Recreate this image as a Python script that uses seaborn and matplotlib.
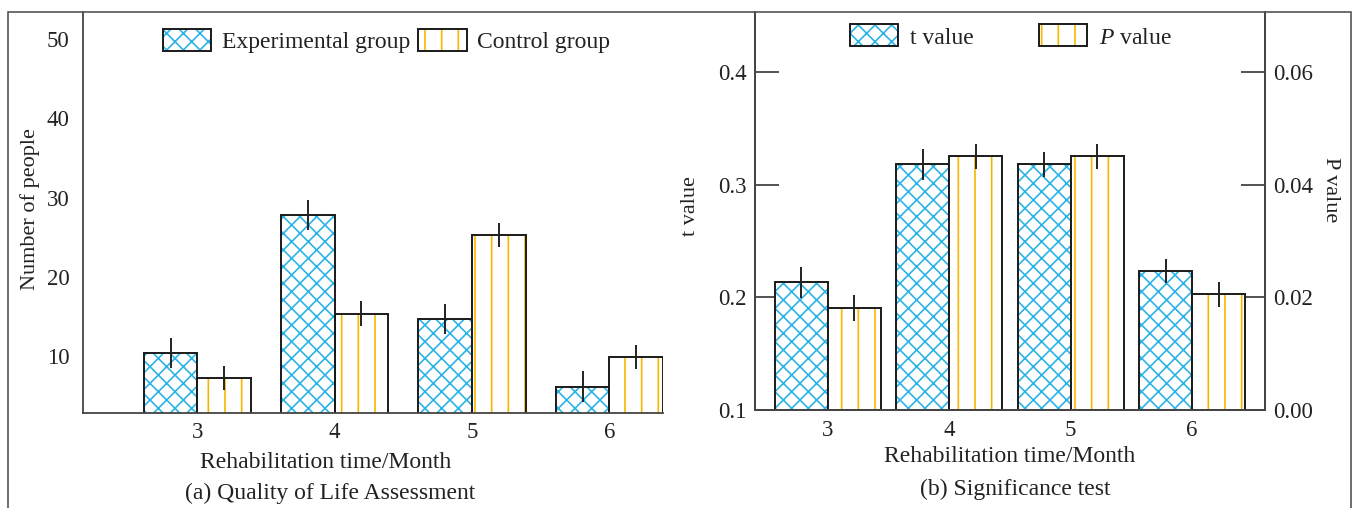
import matplotlib
matplotlib.use("Agg")
import matplotlib.pyplot as plt
import seaborn as sns
import pandas as pd
from matplotlib.patches import Patch, Rectangle
from matplotlib.ticker import StrMethodFormatter

# ---------------- data ----------------
months = [3, 4, 5, 6]
group_labels = ["Experimental group", "Control group"]
exp_people = [10.4, 27.8, 14.7, 6.2]
ctrl_people = [7.3, 15.4, 25.3, 9.9]
exp_err = [1.9, 1.9, 1.9, 1.9]
ctrl_err = [1.55, 1.55, 1.55, 1.55]

stat_labels = ["t value", "P value"]
t_values = [0.213, 0.318, 0.318, 0.223]
t_err = [0.0135, 0.014, 0.0113, 0.0108]
p_values = [0.018, 0.045, 0.045, 0.0205]
p_err = [0.0023, 0.0023, 0.0023, 0.0022]

left_yticks = [10, 20, 30, 40, 50]
t_ticks = [0.1, 0.2, 0.3, 0.4]
p_ticks = [0.00, 0.02, 0.04, 0.06]

# ---------------- style ----------------
sns.set_theme(style="white")
plt.rcParams["font.family"] = ["Liberation Serif", "DejaVu Serif"]
plt.rcParams["mathtext.fontset"] = "custom"
plt.rcParams["mathtext.rm"] = "Liberation Serif"
plt.rcParams["mathtext.it"] = "Liberation Serif:italic"
plt.rcParams["hatch.linewidth"] = 1.2
TXT = "#222222"
CYAN = "#2db4e6"
GOLD = "#f6b600"
EDGE = "#1a1a1a"
SPINE = "#444444"
plt.rcParams["text.color"] = TXT
plt.rcParams["axes.labelcolor"] = TXT
plt.rcParams["xtick.color"] = TXT
plt.rcParams["ytick.color"] = TXT

W, H = 1354, 508
fig = plt.figure(figsize=(W / 100, H / 100), dpi=100)


def fx(px):
    return px / W


def fy(py):
    return 1 - py / H


axA = fig.add_axes([fx(83.3), fy(412.5), fx(663 - 83.3), (412.5 - 12) / H])
axB = fig.add_axes([fx(755), fy(409.5), fx(1265 - 755), (409.5 - 12) / H])


def style_container(ax, cont, hc, hatch, errs):
    xs, ys = [], []
    for p in cont.patches:
        p.set_facecolor("white")
        p.set_edgecolor(hc)
        p.set_hatch(hatch)
        p.set_linewidth(0)
        ax.add_patch(Rectangle(p.get_xy(), p.get_width(), p.get_height(),
                               fill=False, ec=EDGE, lw=1.4,
                               zorder=p.get_zorder() + 0.1))
        xs.append(p.get_x() + p.get_width() / 2)
        ys.append(p.get_y() + p.get_height())
    ax.errorbar(xs, ys, yerr=errs, fmt="none", ecolor="#222222",
                elinewidth=1.4, capsize=0, zorder=5)


def filled(ax):
    return [c for c in ax.containers if len(c.patches) > 0]


# ---------------- panel (a) ----------------
df_a = pd.DataFrame({
    "month": months * 2,
    "group": [group_labels[0]] * len(months) + [group_labels[1]] * len(months),
    "value": exp_people + ctrl_people,
})
sns.barplot(data=df_a, x="month", y="value", hue="group", hue_order=group_labels,
            width=0.78, errorbar=None, ax=axA, legend=False, dodge=True,
            palette=["white", "white"])
ca = filled(axA)
style_container(axA, ca[0], CYAN, "xx", exp_err)
style_container(axA, ca[1], GOLD, "|", ctrl_err)
axA.set_xlim(-0.83, 3.39)
axA.set_ylim(2.93, 53.4)
axA.set_yticks(left_yticks)
axA.set_xlabel("")
axA.set_ylabel("")
for s in ["top", "right"]:
    axA.spines[s].set_visible(False)
for s in ["left", "bottom"]:
    axA.spines[s].set_color(SPINE)
    axA.spines[s].set_linewidth(1.3)
axA.tick_params(axis="y", direction="in", length=17, width=1.3, color=SPINE,
                pad=10, labelsize=16.5)
axA.tick_params(axis="x", length=0, pad=7, labelsize=16.5)

styles = [(CYAN, "xx"), (GOLD, "|")]
hA = [(Patch(facecolor="white", edgecolor=c, hatch=h, linewidth=0),
       Patch(facecolor="none", edgecolor=EDGE, linewidth=1.4)) for c, h in styles]
fig.legend(hA, group_labels, loc="center", bbox_to_anchor=(fx(386.5), fy(41)),
           ncol=2, frameon=False, fontsize=17, handlelength=2.05,
           handleheight=1.05, handletextpad=0.45, columnspacing=0.35,
           borderpad=0, borderaxespad=0)

# ---------------- panel (b) ----------------
df_t = pd.DataFrame({"month": months, "stat": stat_labels[0], "value": t_values})
df_p = pd.DataFrame({"month": months, "stat": stat_labels[1], "value": p_values})
sns.barplot(data=df_t, x="month", y="value", hue="stat", hue_order=stat_labels,
            width=0.872, errorbar=None, ax=axB, legend=False, dodge=True,
            palette=["white", "white"])
style_container(axB, filled(axB)[0], CYAN, "xx", t_err)
axB2 = axB.twinx()
sns.barplot(data=df_p, x="month", y="value", hue="stat", hue_order=stat_labels,
            width=0.872, errorbar=None, ax=axB2, legend=False, dodge=True,
            palette=["white", "white"])
style_container(axB2, filled(axB2)[0], GOLD, "|", p_err)

axB.set_xlim(-0.6, 3.6)
axB.set_ylim(0.1, 0.4535)
axB2.set_ylim(0.0, 0.0707)
axB.set_yticks(t_ticks)
axB2.set_yticks(p_ticks)
axB.yaxis.set_major_formatter(StrMethodFormatter("{x:.1f}"))
axB2.yaxis.set_major_formatter(StrMethodFormatter("{x:.2f}"))
for a in (axB, axB2):
    a.set_xlabel("")
    a.set_ylabel("")
    a.spines["top"].set_visible(False)
    for s in ["left", "right", "bottom"]:
        a.spines[s].set_color(SPINE)
        a.spines[s].set_linewidth(1.3)
axB.tick_params(axis="y", direction="in", length=17, width=1.3, color=SPINE,
                pad=6, labelsize=16.5)
axB2.tick_params(axis="y", direction="in", length=17, width=1.3, color=SPINE,
                 pad=6, labelsize=16.5)
axB.tick_params(axis="x", length=0, pad=7.5, labelsize=16.5)
axB2.tick_params(axis="x", length=0)

hB = [(Patch(facecolor="white", edgecolor=c, hatch=h, linewidth=0),
       Patch(facecolor="none", edgecolor=EDGE, linewidth=1.4)) for c, h in styles]
fig.legend(hB, ["t value", r"$\mathit{P}$ value"], loc="center",
           bbox_to_anchor=(fx(1011), fy(36.5)), ncol=2, frameon=False,
           fontsize=17, handlelength=2.05, handleheight=1.05,
           handletextpad=0.5, columnspacing=2.75, borderpad=0, borderaxespad=0)

# ---------------- texts ----------------
fig.text(fx(30), fy(209), "Number of people", rotation=90, ha="center",
         va="center", fontsize=16)
fig.text(fx(325.5), fy(462), "Rehabilitation time/Month", ha="center",
         va="center", fontsize=17)
fig.text(fx(330), fy(493), "(a) Quality of Life Assessment", ha="center",
         va="center", fontsize=17)
fig.text(fx(691), fy(206), "t value", rotation=90, ha="center", va="center",
         fontsize=16)
fig.text(fx(1330), fy(190), "P value", rotation=-90, ha="center", va="center",
         fontsize=16)
fig.text(fx(1010), fy(456), "Rehabilitation time/Month", ha="center",
         va="center", fontsize=17)
fig.text(fx(1015), fy(489), "(b) Significance test", ha="center",
         va="center", fontsize=17)

# outer frame
fig.patches.append(Rectangle((fx(8), -0.02), fx(1351 - 8), fy(12) + 0.02,
                             transform=fig.transFigure, fill=False,
                             ec="#555555", lw=1.2))

fig.savefig("out.png", dpi=100)
